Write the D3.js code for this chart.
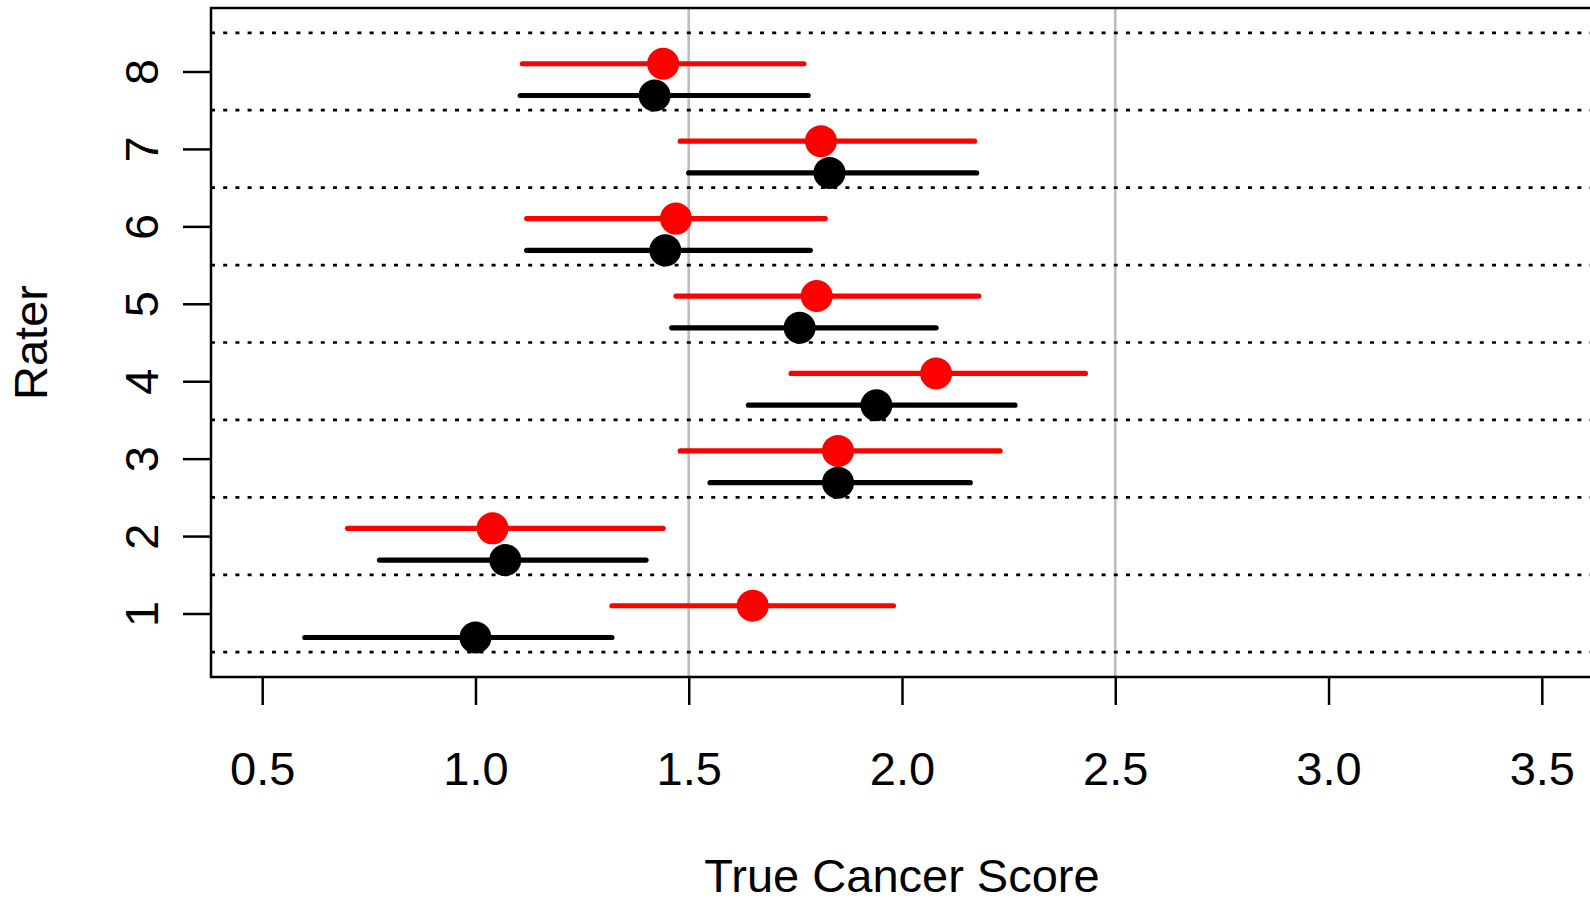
<!DOCTYPE html>
<html>
<head>
<meta charset="utf-8">
<script src="https://cdn.jsdelivr.net/npm/d3@7"></script>
<style>
  html, body { margin: 0; padding: 0; background: #fff; }
  svg { display: block; font-family: "Liberation Sans", Arial, Helvetica, sans-serif; }
</style>
</head>
<body>
<svg id="chart" width="1590" height="898"></svg>
<script>
// Raters and their interval estimates of the true cancer score
const raters = [1, 2, 3, 4, 5, 6, 7, 8];

const redMid = [1.65, 1.04, 1.85, 2.08, 1.80, 1.47, 1.81, 1.44];
const redLo  = [1.32, 0.70, 1.48, 1.74, 1.47, 1.12, 1.48, 1.11];
const redHi  = [1.98, 1.44, 2.23, 2.43, 2.18, 1.82, 2.17, 1.77];

const blackMid = [1.00, 1.07, 1.85, 1.94, 1.76, 1.445, 1.83, 1.42];
const blackLo  = [0.60, 0.775, 1.55, 1.64, 1.46, 1.12, 1.50, 1.105];
const blackHi  = [1.32, 1.40, 2.16, 2.265, 2.08, 1.785, 2.175, 1.78];

const xTicks = [0.5, 1.0, 1.5, 2.0, 2.5, 3.0, 3.5];
const refLines = [1.5, 2.5];
const separators = [0.5, 1.5, 2.5, 3.5, 4.5, 5.5, 6.5, 7.5, 8.5];

const xLabel = "True Cancer Score";
const yLabel = "Rater";

// ---- layout ----
const plot = { left: 211, right: 1593, top: 8, bottom: 677 };
const fontSize = 47;

const svg = d3.select("#chart");

// R-style 4% padded ranges
const x = d3.scaleLinear().domain([0.38, 3.62]).range([plot.left, plot.right]);
const y = d3.scaleLinear().domain([0.18, 8.82]).range([plot.bottom, plot.top]);

// vertical offsets of the two interval rows within each rater band
const shift = { red: 0.1, black: -0.31 };

// grey reference lines
svg.append("g").selectAll("line").data(refLines).join("line")
  .attr("x1", d => x(d)).attr("x2", d => x(d))
  .attr("y1", plot.top).attr("y2", plot.bottom)
  .attr("stroke", "#bebebe").attr("stroke-width", 2.7);

// dotted band separators
svg.append("g").selectAll("line").data(separators).join("line")
  .attr("x1", plot.left).attr("x2", plot.right)
  .attr("y1", d => y(d)).attr("y2", d => y(d))
  .attr("stroke", "#000").attr("stroke-width", 2.7)
  .attr("stroke-dasharray", "4 8.2");

// intervals and point estimates
function drawSeries(color, lo, hi, mid, dy) {
  const rows = raters.map((r, i) => ({ r, lo: lo[i], hi: hi[i], mid: mid[i] }));
  const g = svg.append("g");
  g.selectAll("line").data(rows).join("line")
    .attr("x1", d => x(d.lo)).attr("x2", d => x(d.hi))
    .attr("y1", d => y(d.r + dy)).attr("y2", d => y(d.r + dy))
    .attr("stroke", color).attr("stroke-width", 5.2)
    .attr("stroke-linecap", "round");
  g.selectAll("circle").data(rows).join("circle")
    .attr("cx", d => x(d.mid)).attr("cy", d => y(d.r + dy))
    .attr("r", 16).attr("fill", color);
}
drawSeries("#ff0000", redLo, redHi, redMid, shift.red);
drawSeries("#000000", blackLo, blackHi, blackMid, shift.black);

// plot frame
svg.append("rect")
  .attr("x", plot.left).attr("y", plot.top)
  .attr("width", plot.right - plot.left).attr("height", plot.bottom - plot.top)
  .attr("fill", "none").attr("stroke", "#000").attr("stroke-width", 2.5);

// x axis
const xAxis = svg.append("g")
  .attr("transform", `translate(0,${plot.bottom})`)
  .call(d3.axisBottom(x).tickValues(xTicks).tickSize(28).tickFormat(d3.format(".1f")));
xAxis.select(".domain").remove();
xAxis.selectAll(".tick line").attr("stroke", "#000").attr("stroke-width", 2.5);
xAxis.selectAll(".tick text")
  .attr("y", 108).attr("dy", 0)
  .attr("font-size", fontSize).attr("font-family", "Liberation Sans, Arial, sans-serif")
  .attr("fill", "#000");

// y axis with rotated labels
const yAxis = svg.append("g")
  .attr("transform", `translate(${plot.left},0)`)
  .call(d3.axisLeft(y).tickValues(raters).tickSize(28).tickFormat(d3.format("d")));
yAxis.select(".domain").remove();
yAxis.selectAll(".tick line").attr("stroke", "#000").attr("stroke-width", 2.5);
yAxis.selectAll(".tick text")
  .attr("x", 0).attr("y", 0).attr("dy", 0)
  .attr("text-anchor", "middle")
  .attr("transform", "translate(-53,0) rotate(-90)")
  .attr("font-size", fontSize).attr("font-family", "Liberation Sans, Arial, sans-serif")
  .attr("fill", "#000");

// axis titles
svg.append("text")
  .attr("x", (plot.left + plot.right) / 2).attr("y", 892)
  .attr("text-anchor", "middle").attr("font-size", fontSize)
  .text(xLabel);

svg.append("text")
  .attr("transform", `translate(47,${(plot.top + plot.bottom) / 2}) rotate(-90)`)
  .attr("text-anchor", "middle").attr("font-size", fontSize)
  .text(yLabel);
</script>
</body>
</html>
